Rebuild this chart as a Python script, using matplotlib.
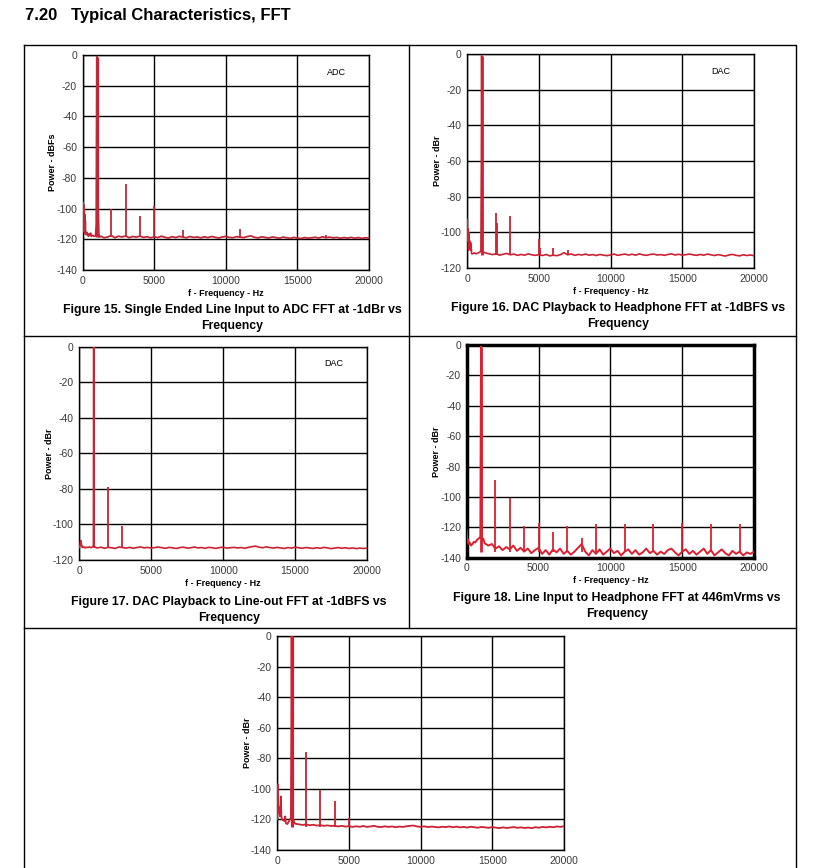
import numpy as np
import matplotlib
matplotlib.use("Agg")
import matplotlib.pyplot as plt

plt.rcParams['font.family'] = ['Liberation Sans', 'DejaVu Sans']
plt.rcParams['axes.unicode_minus'] = False

W, H = 816, 868

# ---- data (Hz, dB) ----
# fig 15: ADC
f15_det_f = [0, 15, 30, 45, 60, 75, 90, 105, 120, 140, 160, 180, 200, 250, 300, 350, 400, 450, 500,
             550, 600, 700, 800, 900, 950, 980, 1000, 1020, 1050, 1080, 1120, 1160, 1200]
f15_det_db = [-115, -96, -110, -97, -114, -98, -112, -100, -115, -104, -116, -108, -116, -117, -115.5,
              -117, -118, -116.5, -117.5, -116, -118, -117.5, -118, -117.8, -110, -40, -1, -30, -66,
              -100, -116, -118.5, -118.2]
f15_fund = -1
f15_floor = [-118, -119, -118.5, -117.5, -119, -118, -118.5, -117.8, -119, -118.2,
             -118.6, -117.9, -118.8, -118.3, -119.1, -118.4, -118.9, -118, -118.7, -119.2,
             -118.3, -118.9, -118.1, -118.6, -119, -118.2, -118.8, -118.5, -119.1, -118.4,
             -118.9, -118.2, -118.7, -119.2, -118.5, -118.1, -118.8, -119, -118.3, -118.6,
             -118.9, -118.2, -117.8, -118.7, -119.1, -118.4, -118.8, -119.2, -118.5, -118.9,
             -119.3, -118.6, -119, -119.4, -118.8, -119.2, -119.5, -118.9, -119.3, -119,
             -118.7, -119.2, -118.4, -119, -118.6, -119.1, -118.8, -119.3, -118.9, -119.2,
             -118.8, -119.3, -118.9, -119.4, -119, -119.2]
f15_spk_f = [2000, 3000, 4000, 5000, 7000, 11000, 17000]
f15_spk_db = [-100, -84, -105, -98, -114, -113, -117]

# fig 16: DAC -> headphone
f16_det_f = [0, 30, 60, 90, 120, 150, 180, 220, 260, 300, 400, 500, 600, 700, 800, 900, 950, 980,
             1000, 1020, 1050, 1100, 1200]
f16_det_db = [-93, -105, -98, -110, -100, -108, -105, -110, -106, -112, -112, -111.5, -112, -111.8,
              -111.4, -111, -110, -60, -1, -50, -111, -111.5, -111.2]
f16_fund = -1
f16_floor = [-111.5, -112, -112.5, -112, -112.8, -112.3, -111.8, -112.6, -112.2, -112.9,
             -112.4, -112.8, -112.1, -112.6, -112.9, -112.5, -113, -112.4, -113.2, -112.8,
             -113.1, -112.5, -111.4, -112.6, -112.1, -112.9, -112.4, -112.7, -112.2, -112.8,
             -112.5, -113, -112.4, -112.8, -113.1, -112.6, -112.2, -112.9, -112.5, -112.2,
             -112.7, -112.3, -112.8, -112.1, -112.6, -112.9, -112.4, -112.2, -112.7, -112.5,
             -112.9, -112.4, -112.1, -112.7, -112.3, -112.8, -112.5, -112.2, -112.6, -112.9,
             -112.4, -112.8, -112.2, -112.6, -113, -112.5, -112.9, -113.3, -112.7, -112.4,
             -112.9, -113.2, -112.6, -113, -112.7, -113.1]
f16_spk_f = [2000, 2040, 3000, 5000, 5050, 6000, 7000]
f16_spk_db = [-89, -95, -91, -104, -109, -109, -110]

# fig 17: DAC -> line-out
f17_det_f = [0, 50, 100, 150, 200, 300, 400, 500, 600, 700, 800, 900, 980, 1000, 1020, 1100, 1200]
f17_det_db = [-113, -112, -109, -111, -113, -112.5, -113.2, -112.8, -113, -112.6, -113.1, -112.7,
              -112, 0, -112, -112.8, -113.1]
f17_fund = 0
f17_floor = [-113.2, -112.8, -113.4, -112.9, -113.1, -113.5, -112.7, -113, -113.3, -112.9,
             -113.4, -113, -112.6, -113.2, -112.9, -113.3, -113, -112.7, -113.1, -113.4,
             -112.9, -113.2, -113.5, -113, -112.8, -113.3, -113.1, -112.7, -113.2, -113,
             -113.4, -112.9, -113.1, -113.5, -113, -112.8, -113.3, -113.1, -112.9, -113.2,
             -113, -113.4, -112.9, -112.5, -112.2, -112.8, -113.1, -112.6, -113, -113.3,
             -112.9, -113.2, -113.5, -113, -113.3, -112.8, -113.1, -113.4, -113, -113.2,
             -113.5, -113.1, -113.4, -112.9, -113.2, -113.6, -113.3, -113, -113.4, -113.1,
             -113.5, -113.2, -113.6, -113.3, -113.5, -113.4]
f17_spk_f = [2000, 3000]
f17_spk_db = [-79, -101]

# fig 18: line in -> headphone
f18_det_f = [0, 30, 60, 100, 150, 200, 300, 400, 500, 600, 700, 800, 900, 950, 980, 1000, 1020,
             1050, 1100, 1150, 1200]
f18_det_db = [-122, -127, -130, -128, -131, -130, -132, -131, -129.5, -130, -128.5, -127.5, -127,
              -126, -45, -1, -40, -127, -128, -127.5, -129]
f18_fund = -1
f18_floor = [-130.5, -132, -131, -134, -132.5, -135, -133, -134.5, -132, -135.5,
             -133.5, -136, -134, -137, -135, -133.5, -137.5, -135, -138, -134.5,
             -136.5, -134, -137.5, -135.5, -138, -136, -133.5, -131, -136, -138.5,
             -135, -137.5, -134.5, -138, -136, -134, -137, -135.5, -138.5, -136,
             -134.5, -137.5, -135, -138, -136.5, -134, -137, -135.5, -138, -136,
             -137.5, -135, -134, -136.5, -138.5, -136, -134.5, -137.5, -135.5, -138,
             -136, -134, -137.5, -135, -138.5, -136.5, -134.5, -137, -138.5, -135.5,
             -137.5, -136, -138.5, -136.5, -137.5, -136]
f18_spk_f = [2000, 3000, 4000, 5000, 6000, 7000, 8000, 9000, 11000, 13000, 15000, 17000, 19000]
f18_spk_db = [-89, -101, -119, -117, -123, -119, -127, -118, -118, -118, -117, -118, -118]

# fig 19 (bottom, caption cut off)
f19_det_f = [0, 30, 60, 100, 150, 200, 250, 280, 320, 400, 500, 550, 600, 700, 800, 900, 950, 980,
             1000, 1020, 1050, 1100, 1150, 1200]
f19_det_db = [-120, -97, -110, -116, -112, -118, -105, -117, -120, -120.5, -121, -118, -122.5, -123,
              -121.5, -119.5, -119, -60, 0, -50, -119, -119.5, -121, -122]
f19_fund = 0
f19_floor = [-122.8, -123.2, -123.6, -123.3, -123.8, -123.5, -124, -123.7, -124.2, -123.9,
             -124.3, -124.1, -124.6, -124.2, -124.7, -124.4, -124.9, -124.5, -124.8, -124.3,
             -124.9, -124.6, -124.2, -124.8, -125, -124.5, -124.9, -124.6, -125.1, -124.7,
             -124.9, -124.5, -124.2, -124, -124.6, -124.9, -124.5, -125, -124.7, -124.9,
             -125.2, -124.8, -125, -124.6, -125.1, -124.7, -125.2, -124.9, -125.3, -124.8,
             -125.1, -125.4, -124.9, -125.2, -125.5, -125, -125.4, -125.7, -125.2, -125.6,
             -125.3, -125, -125.5, -125.2, -125.6, -125.3, -125.7, -125.1, -125.4, -124.9,
             -125.2, -124.8, -125.1, -124.6, -124.9, -124.4]
f19_spk_f = [2000, 3000, 4000, 5000]
f19_spk_db = [-76, -101, -108, -119]

RED = '#cc2233'

fig = plt.figure(figsize=(W / 100, H / 100), dpi=100)

# page layer in pixel coordinates
bg = fig.add_axes([0, 0, 1, 1])
bg.set_xlim(0, W)
bg.set_ylim(H, 0)
bg.axis('off')

bg.text(25, 15.5, '7.20   Typical Characteristics, FFT', fontsize=12, fontweight='bold',
        va='center', ha='left')
# table lines
bg.plot([24, 796, 796], [45, 45, H + 5], color='black', lw=1)
bg.plot([24, 24], [45, H + 5], color='black', lw=1)
bg.plot([24, 796], [336, 336], color='black', lw=1)
bg.plot([24, 796], [627.5, 627.5], color='black', lw=1)
bg.plot([409, 409], [45, 627.5], color='black', lw=1)


def panel(box, ylo, det_f, det_db, fund, floor_db, spk_f, spk_db, ylab, tag=None, frame=1.0,
          xlab=True, color=RED, lw=1.0, fund_lw=2.5):
    x0, y0, x1, y1 = box
    ax = fig.add_axes([x0 / W, 1 - y1 / H, (x1 - x0) / W, (y1 - y0) / H])
    fl_f = np.linspace(1250, 20000, len(floor_db))
    f = np.concatenate([det_f, fl_f])
    db = np.concatenate([det_db, floor_db])
    base = np.median(floor_db)
    ax.plot(f, db, color=color, lw=lw, zorder=3)
    ax.vlines(spk_f, base, spk_db, color=color, lw=1.3, zorder=3)
    ax.vlines([1000], base, [fund], color=color, lw=fund_lw, zorder=3)
    ax.set_xlim(0, 20000)
    ax.set_ylim(ylo, 0)
    ax.set_xticks(np.arange(0, 20001, 5000))
    ax.set_yticks(np.arange(ylo, 1, 20))
    ax.grid(True, color='black', lw=1)
    ax.set_axisbelow(True)
    for s in ax.spines.values():
        s.set_linewidth(frame)
    ax.tick_params(length=0, pad=4, labelsize=7.5, colors='#3a3a3a')
    cx = (x0 + x1) / 2
    if xlab:
        bg.text(cx, y1 + 23, 'f - Frequency - Hz', fontsize=6.5, fontweight='bold',
                ha='center', va='center')
    bg.text(x0 - 30, (y0 + y1) / 2, ylab, fontsize=6.5, fontweight='bold', rotation=90,
            ha='center', va='center')
    if tag:
        ax.text(0.885, 0.92, tag, transform=ax.transAxes, fontsize=6.5, ha='center', va='center')
    return ax


panel((82.7, 55, 369, 270), -140, f15_det_f, f15_det_db, f15_fund, f15_floor, f15_spk_f,
      f15_spk_db, 'Power - dBFs', 'ADC', color='#c0283a', lw=1.3, fund_lw=2.4)
panel((467.3, 54, 754, 268), -120, f16_det_f, f16_det_db, f16_fund, f16_floor, f16_spk_f,
      f16_spk_db, 'Power - dBr', 'DAC', lw=1.2, fund_lw=2.0)
panel((79.3, 346.7, 367, 560), -120, f17_det_f, f17_det_db, f17_fund, f17_floor, f17_spk_f,
      f17_spk_db, 'Power - dBr', 'DAC', lw=1.2, fund_lw=1.2)
panel((466.7, 345, 754, 557.7), -140, f18_det_f, f18_det_db, f18_fund, f18_floor, f18_spk_f,
      f18_spk_db, 'Power - dBr', frame=2.5, color='#dd2030', lw=1.4, fund_lw=2.0)
panel((277.3, 636, 564, 850), -140, f19_det_f, f19_det_db, f19_fund, f19_floor, f19_spk_f,
      f19_spk_db, 'Power - dBr', xlab=False, lw=1.3, fund_lw=2.3)

caps = [
    (232, 310, 'Figure 15. Single Ended Line Input to ADC FFT at -1dBr vs\nFrequency'),
    (618, 308, 'Figure 16. DAC Playback to Headphone FFT at -1dBFS vs\nFrequency'),
    (229, 602, 'Figure 17. DAC Playback to Line-out FFT at -1dBFS vs\nFrequency'),
    (617, 598, 'Figure 18. Line Input to Headphone FFT at 446mVrms vs\nFrequency'),
]
for cx, cy, txt in caps:
    bg.text(cx, cy - 5.5, txt, fontsize=8.8, fontweight='bold', ha='center', va='top',
            linespacing=1.4)

fig.savefig('out.png', dpi=100)
